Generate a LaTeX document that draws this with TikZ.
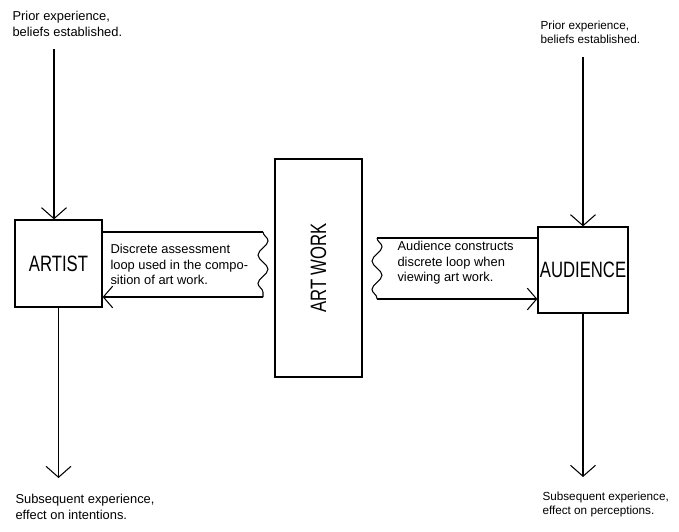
\documentclass[tikz,border=0pt]{standalone}
\usepackage{fontspec}
\setmainfont{Liberation Sans}
\newfontfamily\bigfont[FakeStretch=0.75]{Liberation Sans}
\usetikzlibrary{arrows.meta,decorations.pathmorphing}
\tikzset{
  box/.style={draw, line width=1.1pt, inner sep=0pt,
    font=\bigfont\fontsize{19}{22}\selectfont},
  note/.style={inner sep=0pt, align=left, anchor=north west,
    font=\fontsize{11}{13}\selectfont},
  wave/.style={decorate, decoration={snake, amplitude=0.15cm, segment length=0.85cm}},
  small tip/.style={-{Straight Barb[length=2.8mm,width=6.5mm]}}
}
\begin{document}
\begin{tikzpicture}[x=0.03cm, y=-0.03cm,
    >={Straight Barb[length=3.3mm,width=7.5mm]}, line width=0.9pt]
    \useasboundingbox (0,0) rectangle (679,531);
    % Блоки
    \node[box, minimum width=2.61cm, minimum height=2.61cm]
    (artist) at (58.5,263.5) {ARTIST};
    \node[box, rotate=90, minimum width=6.54cm, minimum height=2.61cm]
    (artwork) at (318.5,268) {ART WORK};
    \node[box, minimum width=2.7cm, minimum height=2.58cm]
    (audience) at (583,270) {AUDIENCE};

    % Подписи сверху и снизу
    \node[note] (ltop) at (12,11) {Prior experience,\\beliefs established.};
    \node[note, font=\fontsize{10}{12.5}\selectfont] (rtop) at (540,20)
    {Prior experience,\\beliefs established.};
    \node[note] (lbot) at (15,494) {Subsequent experience,\\effect on intentions.};
    \node[note, font=\fontsize{10}{12.5}\selectfont] (rbot) at (542,491)
    {Subsequent experience,\\effect on perceptions.};

    % Входы и выходы
    \coordinate (lin) at (54,49);
    \draw[->] (lin) -- (lin |- artist.north);
    \coordinate (lout) at (58.5,478);
    \draw[->] (artist.south) -- (lout);
    \coordinate (rin) at (583,57);
    \draw[->] (rin) -- (audience.north);
    \coordinate (rout) at (583,477);
    \draw[->] (audience.south) -- (rout);

    % Петля художника
    \node[note] (lloop) at (110,244)
    {Discrete assessment\\loop used in the compo-\\sition of art work.};
    \coordinate (lw1) at (263,232);
    \coordinate (lw2) at (263,297);
    \draw (artist.east |- lw1) -- (lw1);
    \draw[wave] (lw1) -- (lw2);
    \draw[small tip] (lw2) -- (artist.east |- lw2);

    % Петля зрителя
    \node[note] (rloop) at (397,241)
    {Audience constructs\\discrete loop when\\viewing art work.};
    \coordinate (rw1) at (377,238);
    \coordinate (rw2) at (377,299);
    \draw (rw1) -- (audience.west |- rw1);
    \draw[wave] (rw1) -- (rw2);
    \draw[small tip] (rw2) -- (audience.west |- rw2);
\end{tikzpicture}
\end{document}
